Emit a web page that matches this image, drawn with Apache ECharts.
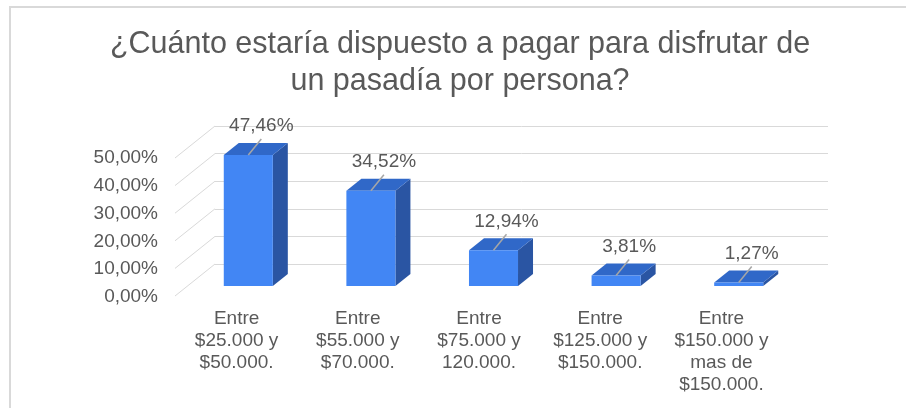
<!DOCTYPE html>
<html>
<head>
<meta charset="utf-8">
<script src="https://cdn.jsdelivr.net/npm/echarts@6/dist/echarts.min.js"></script>
<style>
  html, body { margin: 0; padding: 0; background: #fff; }
  #chart { width: 906px; height: 408px; }
</style>
</head>
<body>
<div id="chart"></div>
<script>
// datos
const categories = [
  'Entre\n$25.000 y\n$50.000.',
  'Entre\n$55.000 y\n$70.000.',
  'Entre\n$75.000 y\n120.000.',
  'Entre\n$125.000 y\n$150.000.',
  'Entre\n$150.000 y\nmas de\n$150.000.'
]
const values = [47.46, 34.52, 12.94, 3.81, 1.27]
const yTicks = [0, 10, 20, 30, 40, 50]

const textColor = '#595959'
const gridColor = '#d9d9d9'
const fontFamily = 'Liberation Sans, Arial, sans-serif'

function pct(v) {
  return v.toFixed(2).replace('.', ',') + '%'
}

// desplazamiento de la perspectiva (pared del fondo -> frente)
const wallDx = -40
const wallDy = 32
// posición de la cara frontal de la barra respecto a la pared
const barDx = -28
const barDy = 22
// profundidad de la barra
const depthX = 15
const depthY = -12

const chart = echarts.init(document.getElementById('chart'))

chart.setOption({
  animation: false,
  backgroundColor: '#fff',
  title: {
    text: '¿Cuánto estaría dispuesto a pagar para disfrutar de\nun pasadía por persona?',
    left: 460,
    top: 26,
    textAlign: 'center',
    padding: 0,
    textStyle: {
      color: textColor,
      fontFamily: fontFamily,
      fontSize: 30.5,
      fontWeight: 'normal',
      lineHeight: 37
    }
  },
  graphic: [{
    type: 'rect',
    shape: { x: 10, y: 7, width: 1000, height: 1000 },
    style: { fill: 'none', stroke: gridColor, lineWidth: 2 },
    silent: true
  }],
  grid: [
    // pared del fondo
    { left: 215, right: 78, top: 126, bottom: 144 },
    // frente (etiquetas)
    { left: 176, right: 124, top: 158, bottom: 111 }
  ],
  xAxis: [{
    gridIndex: 0,
    type: 'category',
    data: categories,
    axisLine: { show: false },
    axisTick: { show: false },
    axisLabel: { show: false }
  }, {
    gridIndex: 1,
    type: 'category',
    data: categories,
    axisLine: { show: false },
    axisTick: { show: false },
    axisLabel: {
      color: textColor,
      fontFamily: fontFamily,
      fontSize: 19,
      lineHeight: 22,
      margin: 11,
      interval: 0
    }
  }],
  yAxis: [{
    gridIndex: 0,
    type: 'value',
    min: 0,
    max: 50,
    interval: 10,
    axisLine: { show: false },
    axisTick: { show: false },
    axisLabel: { show: false },
    splitLine: { lineStyle: { color: gridColor, width: 1 } }
  }, {
    gridIndex: 1,
    type: 'value',
    min: 0,
    max: 50,
    interval: 10,
    axisLine: { show: false },
    axisTick: { show: false },
    splitLine: { show: false },
    axisLabel: {
      color: textColor,
      fontFamily: fontFamily,
      fontSize: 19,
      margin: 18,
      formatter: v => pct(v)
    }
  }],
  series: [{
    // líneas diagonales del piso lateral
    type: 'custom',
    xAxisIndex: 0,
    yAxisIndex: 0,
    silent: true,
    z: 1,
    data: yTicks.map(t => [0, t]),
    renderItem(params, api) {
      const y = api.coord([0, api.value(1)])[1]
      const x = params.coordSys.x
      return {
        type: 'line',
        shape: { x1: x, y1: y, x2: x + wallDx, y2: y + wallDy },
        style: { stroke: gridColor, lineWidth: 1 }
      }
    }
  }, {
    // barras 3D
    type: 'custom',
    xAxisIndex: 0,
    yAxisIndex: 0,
    z: 3,
    data: values.map((v, i) => [i, v]),
    renderItem(params, api) {
      const i = api.value(0)
      const v = api.value(1)
      const base = api.coord([i, 0])
      const top = api.coord([i, v])
      const bw = api.size([1, 0])[0] * 0.4
      const cx = base[0] + barDx
      const x0 = cx - bw / 2
      const x1 = cx + bw / 2
      const yb = base[1] + barDy
      const yt = top[1] + barDy
      return {
        type: 'group',
        children: [{
          type: 'polygon',
          shape: { points: [[x1, yb], [x1 + depthX, yb + depthY], [x1 + depthX, yt + depthY], [x1, yt]] },
          style: { fill: '#2a55a3' }
        }, {
          type: 'polygon',
          shape: { points: [[x0, yt], [x1, yt], [x1 + depthX, yt + depthY], [x0 + depthX, yt + depthY]] },
          style: { fill: '#3068c8' }
        }, {
          type: 'rect',
          shape: { x: x0, y: yt, width: bw, height: yb - yt },
          style: { fill: '#4286f4' }
        }, {
          type: 'line',
          shape: { x1: cx, y1: yt, x2: cx + 13, y2: yt - 16 },
          style: { stroke: '#a6a6a6', lineWidth: 1.5 }
        }, {
          type: 'text',
          style: {
            x: cx + 13,
            y: yt - 29,
            text: pct(v),
            fill: textColor,
            font: '19px ' + fontFamily,
            align: 'center',
            verticalAlign: 'middle'
          }
        }]
      }
    }
  }]
})
</script>
</body>
</html>
